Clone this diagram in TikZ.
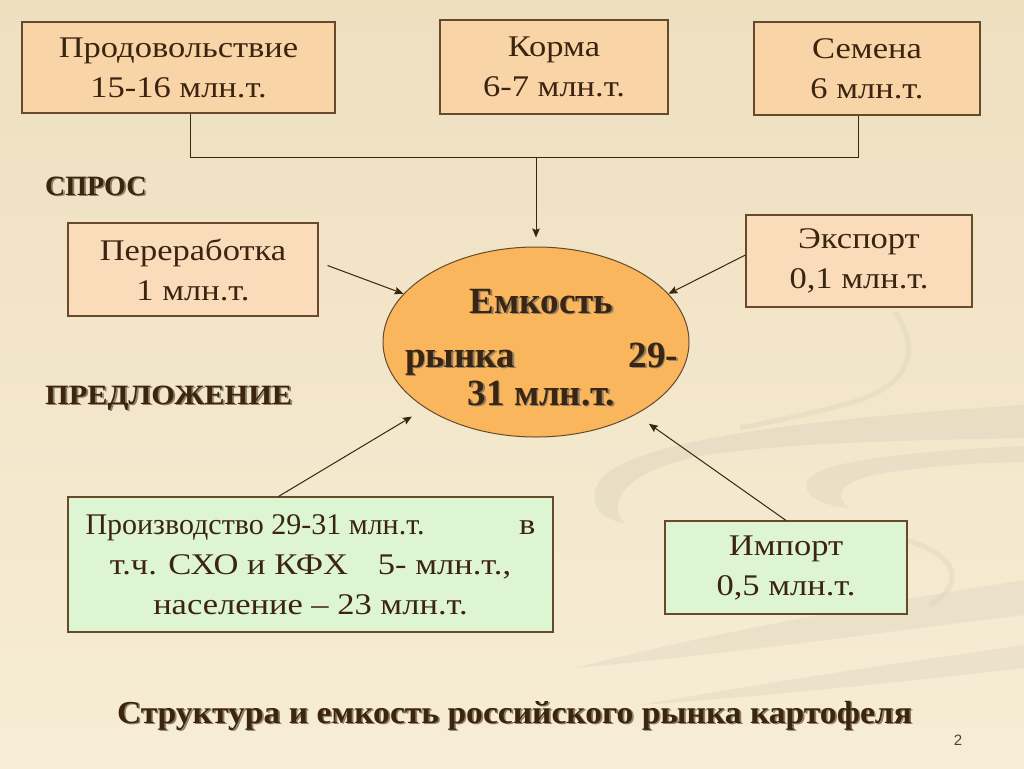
\documentclass[tikz,border=0pt]{standalone}
\usepackage{fontspec}
\setmainfont{Liberation Serif}
\newfontfamily\boxfont[FakeStretch=1.15]{Liberation Serif}
\newfontfamily\boxfontn{Liberation Serif}
\newfontfamily\numfont{Liberation Sans}
\usetikzlibrary{arrows.meta,shapes.geometric,calc}
\definecolor{txt}{HTML}{3B2410}
\definecolor{shdc}{HTML}{8E7F68}
\definecolor{peach}{HTML}{F9D4A6}
\definecolor{peachl}{HTML}{FADCBB}
\definecolor{mint}{HTML}{DEF5D3}
\definecolor{orng}{HTML}{F9B65C}
\definecolor{edge}{HTML}{654A2C}
\definecolor{bgtop}{HTML}{EEDFBF}
\definecolor{bgbot}{HTML}{F7EDD6}
\definecolor{swoosh}{HTML}{DDD3BD}
\newcommand\shadowtxt[1]{\makebox[0pt][l]{\hspace{1.6pt}\raisebox{-1.6pt}{\textcolor{shdc}{#1}}}#1}
\begin{document}
\begin{tikzpicture}[x=1pt,y=-1pt,
  box/.style={draw=edge, line width=1.1pt, fill=peach, text=txt, align=center,
    font=\boxfont\fontsize{30}{40}\selectfont, inner sep=0pt},
  conn/.style={draw=txt, line width=1pt},
  arr/.style={conn, -{Stealth[length=9pt,width=7.5pt,inset=1.5pt]}},
  heading/.style={text=txt, font=\bfseries\fontsize{28}{32}\selectfont, inner sep=0pt, anchor=base west}]
% background
\useasboundingbox (0,0) rectangle (1024,768);
\shade[top color=bgtop, bottom color=bgbot, shading angle=0] (0,0) rectangle (1024,768);
% decorative swooshes
\fill[swoosh, opacity=0.45] (1024,405) .. controls (820,418) and (610,440) .. (596,488)
  .. controls (590,508) and (603,520) .. (625,523)
  .. controls (608,508) and (615,472) .. (705,455)
  .. controls (810,440) and (950,440) .. (1024,438) -- cycle;
\fill[swoosh, opacity=0.4] (1024,446) .. controls (900,452) and (805,462) .. (806,486)
  .. controls (808,500) and (828,506) .. (850,508)
  .. controls (832,496) and (835,478) .. (905,470)
  .. controls (955,464) and (1000,462) .. (1024,462) -- cycle;
\draw[swoosh, opacity=0.4, line width=5pt] (895,312) .. controls (918,345) and (915,380) .. (860,400)
  .. controls (820,412) and (780,420) .. (740,428);
\fill[swoosh, opacity=0.4] (575,668) .. controls (720,630) and (900,600) .. (1024,580)
  -- (1024,615) .. controls (900,630) and (720,655) .. (575,668) -- cycle;
\fill[swoosh, opacity=0.4] (640,705) .. controls (780,680) and (920,660) .. (1024,645)
  -- (1024,668) .. controls (920,680) and (780,695) .. (640,705) -- cycle;
\draw[swoosh, opacity=0.4, line width=5pt] (905,540) .. controls (960,555) and (965,585) .. (930,605);
% boxes
\node[box, minimum width=313pt, minimum height=91pt] (prod) at (178.5,67.5)
  {Продовольствие\\15-16 млн.т.};
\node[box, minimum width=228pt, minimum height=94pt] (korma) at (554,67)
  {Корма\\6-7 млн.т.};
\node[box, minimum width=226pt, minimum height=93pt] (semena) at (867,68.5)
  {Семена\\6 млн.т.};
\node[box, fill=peachl, minimum width=250pt, minimum height=93pt] (perer) at (193,269.5)
  {Переработка\\1 млн.т.};
\node[box, fill=peachl, minimum width=226pt, minimum height=92pt] (export) at (859,261)
  {Экспорт\\0,1 млн.т.};
\node[box, fill=mint, minimum width=485pt, minimum height=135pt] (proizv) at (310.5,564.5)
  {\parbox{450pt}{\centering {\boxfontn Производство 29-31 млн.т.}\hfill в\\
   т.ч. СХО и КФХ\quad 5- млн.т.,\\ население – 23 млн.т.}};
\node[box, fill=mint, minimum width=242pt, minimum height=93pt] (import) at (786,567.5)
  {Импорт\\0,5 млн.т.};
% ellipse
\node[ellipse, draw=edge, line width=1pt, fill=orng, text=txt, inner sep=0pt,
  minimum width=306pt, minimum height=190pt,
  font=\bfseries\fontsize{37}{40}\selectfont] (ell) at (536,342)
  {\smash{\makebox[0pt]{\hspace*{11pt}\raisebox{29pt}{\parbox[t]{273pt}{\centering
   \shadowtxt{Емкость}\\[14pt] \shadowtxt{рынка}\hfill\shadowtxt{29-}\\[-2pt] \shadowtxt{31 млн.т.}}}}}};
% headings
\node[heading] (spros) at (45,195) {\shadowtxt{СПРОС}};
\node[heading] (predl) at (45,404) {\resizebox{247pt}{\height}{\shadowtxt{ПРЕДЛОЖЕНИЕ}}};
\node[text=txt, font=\bfseries\fontsize{32}{34}\selectfont, inner sep=0pt, anchor=base] (title) at (514.5,723)
  {\resizebox{795pt}{\height}{\shadowtxt{Структура и емкость российского рынка картофеля}}};
\node[text=txt!70!gray, font=\numfont\fontsize{15}{18}\selectfont, inner sep=0pt, anchor=base] (pnum) at (958,745) {2};
% connectors
\coordinate (jl) at (190,157);
\coordinate (jr) at (858,157);
\coordinate (jm) at (536,157);
\draw[conn] (prod.south -| jl) -- (jl) -- (jr) -- (semena.south -| jr);
\draw[arr, shorten >=9pt] (jm) -- (ell.north);
\draw[arr] ($(perer.east)+(9,-4)$) -- (ell.160);
\draw[arr] ($(export.west)+(0,-6)$) -- (ell.20);
\draw[arr, shorten >=16pt] ($(proizv.north)+(-32,0)$) -- (ell.211);
\draw[arr, shorten >=16pt] (import.north) -- (ell.324);
\end{tikzpicture}
\end{document}
